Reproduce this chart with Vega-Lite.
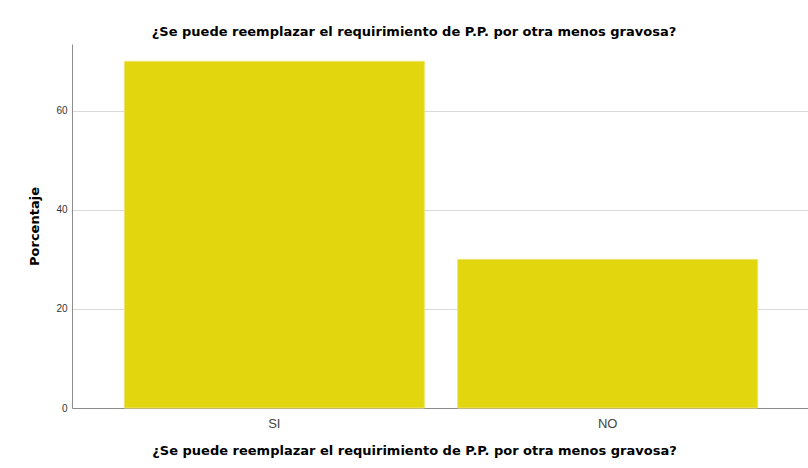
{
  "$schema": "https://vega.github.io/schema/vega-lite/v6.json",
  "autosize": "none",
  "width": 738,
  "height": 364,
  "padding": {"left": 72, "top": 44, "right": 0, "bottom": 60},
  "background": "white",
  "config": {"view": {"stroke": null}, "font": "Liberation Sans"},
  "title": {
    "text": "¿Se puede reemplazar el requirimiento de P.P. por otra menos gravosa?",
    "fontSize": 13,
    "fontWeight": "bold",
    "color": "#000000",
    "font": "DejaVu Sans",
    "anchor": "middle",
    "dx": -27,
    "offset": 5
  },
  "data": {
    "values": [
      {"respuesta": "SI", "porcentaje": 70},
      {"respuesta": "NO", "porcentaje": 30}
    ]
  },
  "mark": {"type": "bar", "color": "#e2d60f", "stroke": "#efe46a", "strokeWidth": 1},
  "encoding": {
    "x": {
      "field": "respuesta",
      "type": "nominal",
      "sort": ["SI", "NO"],
      "scale": {"paddingInner": 0.1, "paddingOuter": 0.157},
      "axis": {
        "title": "¿Se puede reemplazar el requirimiento de P.P. por otra menos gravosa?",
        "titleFont": "DejaVu Sans",
        "titleFontSize": 13,
        "titleFontWeight": "bold",
        "titleColor": "#000000",
        "titleX": 342,
        "titlePadding": 14,
        "labelAngle": 0,
        "labelFontSize": 13,
        "labelColor": "#444444",
        "labelPadding": 9,
        "ticks": false,
        "domainColor": "#8c8c8c",
        "grid": false
      }
    },
    "y": {
      "field": "porcentaje",
      "type": "quantitative",
      "scale": {"domain": [0, 73.5], "nice": false},
      "axis": {
        "title": "Porcentaje",
        "titleFont": "DejaVu Sans",
        "titleFontSize": 13,
        "titleFontWeight": "bold",
        "titleColor": "#000000",
        "titlePadding": 14,
        "values": [0, 20, 40, 60],
        "labelFontSize": 10,
        "labelColor": "#333333",
        "labelPadding": 5,
        "ticks": false,
        "domainColor": "#8c8c8c",
        "gridColor": "#d9d9d9",
        "grid": true
      }
    }
  }
}
